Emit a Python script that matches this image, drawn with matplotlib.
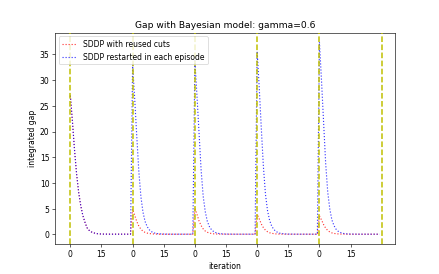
import numpy as np
import matplotlib.pyplot as plt

# gap per iteration, 5 episodes of 30 iterations each
reused_ep1 = [27.0, 22.0, 16.5, 11.8, 8.2, 5.6, 3.7, 2.4, 1.3, 0.8,
              0.5, 0.3, 0.2, 0.12, 0.08, 0.05, 0.04, 0.03, 0.03, 0.03,
              0.03, 0.03, 0.03, 0.03, 0.03, 0.03, 0.03, 0.03, 0.03, 0.03]
reused_ep2 = [4.9, 3.7, 2.5, 1.6, 1.0, 0.6, 0.38, 0.24, 0.15, 0.1,
              0.07, 0.05, 0.04, 0.03, 0.02, 0.02, 0.02, 0.02, 0.02, 0.02,
              0.02, 0.02, 0.02, 0.02, 0.02, 0.02, 0.02, 0.02, 0.02, 0.02]
reused_ep3 = [5.1, 3.9, 2.6, 1.7, 1.05, 0.63, 0.4, 0.25, 0.16, 0.1,
              0.07, 0.05, 0.04, 0.03, 0.02, 0.02, 0.02, 0.02, 0.02, 0.02,
              0.02, 0.02, 0.02, 0.02, 0.02, 0.02, 0.02, 0.02, 0.02, 0.02]
reused_ep4 = [3.9, 3.0, 2.0, 1.3, 0.8, 0.5, 0.3, 0.2, 0.12, 0.08,
              0.05, 0.04, 0.03, 0.02, 0.02, 0.02, 0.02, 0.02, 0.02, 0.02,
              0.02, 0.02, 0.02, 0.02, 0.02, 0.02, 0.02, 0.02, 0.02, 0.02]
reused_ep5 = [3.6, 2.8, 1.9, 1.2, 0.75, 0.45, 0.28, 0.18, 0.11, 0.07,
              0.05, 0.04, 0.03, 0.02, 0.02, 0.02, 0.02, 0.02, 0.02, 0.02,
              0.02, 0.02, 0.02, 0.02, 0.02, 0.02, 0.02, 0.02, 0.02, 0.02]

restart_ep1 = reused_ep1  # same cuts in the first episode
restart_ep2 = [33.0, 26.4, 19.1, 12.2, 7.3, 4.3, 2.5, 1.5, 0.9, 0.53,
               0.33, 0.2, 0.13, 0.09, 0.06, 0.05, 0.04, 0.03, 0.03, 0.03,
               0.03, 0.03, 0.03, 0.03, 0.03, 0.03, 0.03, 0.03, 0.03, 0.03]
restart_ep3 = [33.8, 27.0, 19.6, 12.5, 7.4, 4.4, 2.5, 1.5, 0.9, 0.54,
               0.34, 0.2, 0.13, 0.09, 0.06, 0.05, 0.04, 0.03, 0.03, 0.03,
               0.03, 0.03, 0.03, 0.03, 0.03, 0.03, 0.03, 0.03, 0.03, 0.03]
restart_ep4 = [35.6, 28.5, 20.6, 13.2, 7.8, 4.6, 2.7, 1.6, 0.96, 0.57,
               0.36, 0.21, 0.14, 0.09, 0.06, 0.05, 0.04, 0.03, 0.03, 0.03,
               0.03, 0.03, 0.03, 0.03, 0.03, 0.03, 0.03, 0.03, 0.03, 0.03]
restart_ep5 = [37.4, 29.9, 21.7, 13.8, 8.2, 4.9, 2.8, 1.7, 1.0, 0.6,
               0.37, 0.22, 0.14, 0.09, 0.06, 0.05, 0.04, 0.03, 0.03, 0.03,
               0.03, 0.03, 0.03, 0.03, 0.03, 0.03, 0.03, 0.03, 0.03, 0.03]

episode_len = 30
num_episodes = 5
tick_labels = ['0', '15']

reused = reused_ep1 + reused_ep2 + reused_ep3 + reused_ep4 + reused_ep5
restart = restart_ep1 + restart_ep2 + restart_ep3 + restart_ep4 + restart_ep5
iters = np.arange(len(reused))

#bigger canvas at low dpi so text and lines come out small like the original
fig = plt.figure(figsize=(8, 5), dpi=54.875)
ax = fig.add_subplot(111)

ax.plot(iters, reused, ':', color='red', alpha=0.8, label='SDDP with reused cuts')
ax.plot(iters, restart, ':', color='blue', alpha=0.8, label='SDDP restarted in each episode')

#episode boundaries, drawn over the curves
for ep in range(num_episodes + 1):
    ax.axvline(ep * episode_len, color='y', linestyle='--', linewidth=2, zorder=3)

ax.set_xticks(np.arange(0, episode_len * num_episodes, 15))
ax.set_xticklabels(tick_labels * num_episodes)

ax.set_title('Gap with Bayesian model: gamma=0.6')
ax.set_xlabel('iteration')
ax.set_ylabel('integrated gap')
ax.legend(loc='upper left')

fig.savefig('out.png', dpi=54.875)
